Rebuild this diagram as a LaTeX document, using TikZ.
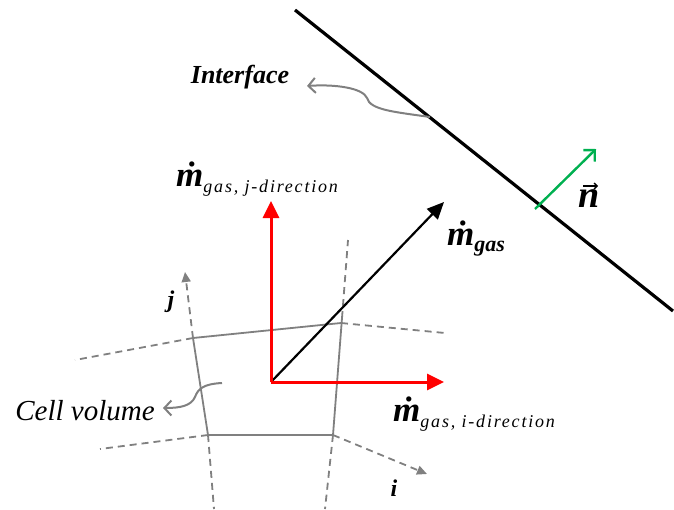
\documentclass[tikz,border=0pt]{standalone}
\usepackage{fontspec}
\setmainfont{Liberation Serif}
\usetikzlibrary{arrows.meta}
\definecolor{gridgray}{RGB}{128,128,128}
\definecolor{vecred}{RGB}{255,0,0}
\definecolor{normgreen}{RGB}{0,176,80}
\tikzset{
  gridsolid/.style={draw=gridgray,line width=1.8pt},
  griddash/.style={draw=gridgray,line width=1.8pt,dash pattern=on 7pt off 5pt},
  gridarrow/.style={griddash,-{Triangle[length=10pt,width=9pt]}},
  redvec/.style={draw=vecred,line width=3pt,-{Triangle[length=17pt,width=16pt]}},
  blackvec/.style={draw=black,line width=2.2pt,-{Triangle[length=17pt,width=15pt]}},
  pointer/.style={draw=gridgray,line width=2pt,-{Straight Barb[length=7pt,width=15pt]}},
  lbl/.style={inner sep=0pt,font=\fontsize{26}{28}\selectfont\bfseries\itshape},
  mlbl/.style={inner sep=0pt,anchor=base west},
}
\newcommand{\mdotbig}{{\fontsize{35}{36}\selectfont\bfseries\itshape \.m}}
\newcommand{\subtxt}[1]{{\fontsize{18}{19}\selectfont\itshape\addfontfeatures{LetterSpace=10}#1}}
\begin{document}
\begin{tikzpicture}[x=1pt,y=-1pt]
\useasboundingbox (0,0) rectangle (674,509);
% interface
\coordinate (if1) at (295,10);
\coordinate (if2) at (673,311);
\draw[line width=3.2pt] (if1) -- (if2);
% normal vector
\coordinate (n0) at (535,209);
\coordinate (n1) at (596,149);
\draw[draw=normgreen,line width=2.4pt,-{Straight Barb[length=8pt,width=16pt]}] (n0) -- (n1);
\node[inner sep=0pt] (nlab) at (589,199) {\fontsize{38}{40}\selectfont\bfseries\itshape n};
\draw[line width=1.3pt,-{Straight Barb[length=3pt,width=6pt]}] ([xshift=-6pt,yshift=13pt]nlab.center) -- ([xshift=9pt,yshift=13pt]nlab.center);
% interface label
\node[lbl] (iflab) at (240,77) {Interface};
\coordinate (ifp) at (430,117);
\coordinate (ifend) at (307,86);
\draw[pointer] (ifp) .. controls (395,112) and (370,110) .. (367,98) .. controls (363,88) and (335,84) .. (ifend);
% grid
\coordinate (c1) at (193,338);
\coordinate (c2) at (341,323);
\coordinate (c3) at (333,435);
\coordinate (c4) at (208,435);
\coordinate (c2t) at (342,318);
\coordinate (jtip) at (185,272);
\coordinate (lbot) at (214,509);
\coordinate (rtop) at (348,240);
\coordinate (rbot) at (325,509);
\coordinate (tl) at (75,360);
\coordinate (tr) at (445,333);
\coordinate (bl) at (100,449);
\coordinate (itip) at (427,474);
\draw[gridsolid] (c1) -- (c2);
\draw[gridsolid] (c2t) -- (c3) -- (c4) -- (c1);
\draw[gridarrow] (c1) -- (jtip);
\draw[griddash] (c4) -- (lbot);
\draw[griddash] (c2t) -- (rtop);
\draw[griddash] (c3) -- (rbot);
\draw[griddash] (c1) -- (tl);
\draw[griddash] (c2) -- (tr);
\draw[griddash] (c4) -- (bl);
\draw[gridarrow] (c3) -- (itip);
\node[inner sep=0pt] (jlab) at (171,302) {\fontsize{24}{26}\selectfont\bfseries\itshape j};
\node[inner sep=0pt] (ilab) at (394,488) {\fontsize{24}{26}\selectfont\bfseries\itshape i};
% cell volume
\node[inner sep=0pt,font=\fontsize{29}{31}\selectfont\itshape] (cvlab) at (85,411) {Cell volume};
\coordinate (cvp) at (222,383);
\coordinate (cvend) at (163,408);
\draw[pointer] (cvp) .. controls (203,384) and (198,389) .. (195,397) .. controls (191,406) and (180,408) .. (cvend);
% vectors
\coordinate (o) at (271,382);
\coordinate (jv) at (271,201);
\coordinate (iv) at (444,382);
\coordinate (gv) at (444,202);
\draw[blackvec] (o) -- (gv);
\draw[redvec] (o) -- (jv);
\draw[redvec] (o) -- (iv);
% labels
\node[mlbl] (mj) at (176,186) {\mdotbig\subtxt{\raisebox{-6pt}{gas, j-direction}}};
\node[mlbl] (mi) at (393,421) {\mdotbig\subtxt{\raisebox{-6pt}{gas, i-direction}}};
\node[mlbl] (mg) at (447,245) {\mdotbig{\fontsize{22}{24}\selectfont\bfseries\itshape\raisebox{-6pt}{gas}}};
\end{tikzpicture}
\end{document}
